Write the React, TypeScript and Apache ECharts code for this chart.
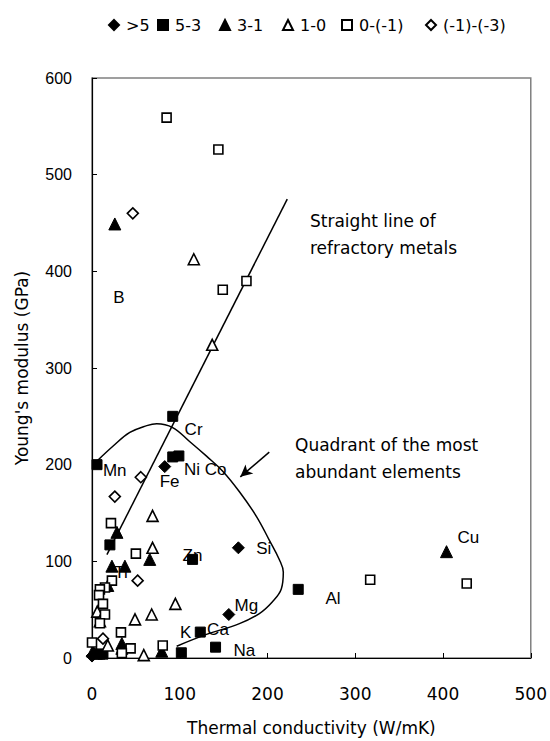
import React, { useEffect, useRef } from "react";
import * as echarts from "echarts";

const legendNames = [">5", "5-3", "3-1", "1-0", "0-(-1)", "(-1)-(-3)"];
const legendLefts = [103, 152, 214, 277, 336, 420];

const seriesGt5 = [[82.9, 198], [166.8, 114], [155.9, 45], [0, 2]];
const series5to3 = [[92, 250], [5.7, 200], [92, 208], [99, 209], [20.4, 117], [114.6, 102], [235, 71], [123.4, 26.8], [101.8, 5.4], [140.8, 11.2], [9, 4], [12.5, 4]];
const series3to1 = [[26, 449], [28.4, 130], [22.7, 95], [37.5, 95], [65.8, 102], [404, 110], [34, 15], [34, 10], [79.5, 7], [1, 7], [5, 5], [18, 75]];
const series1to0 = [[137, 324], [116, 412.5], [69, 114], [69, 147], [95, 56], [49, 40], [68, 45], [6, 48], [9, 38], [18, 13], [59, 3]];
const series0toM1 = [[85, 559], [144, 526], [149, 381], [176, 390], [317, 81], [427, 77], [21.6, 139.5], [50, 108], [22.7, 80], [14.8, 73], [9, 71], [8, 65], [12.5, 56], [14.8, 45], [9, 36], [33, 26.5], [44, 10], [34, 5], [80.6, 13], [0, 16]];
const seriesM1toM3 = [[46.5, 460], [55.6, 187], [26, 167], [52, 80], [12.5, 20]];

const refractoryLine = [[17, 107], [222.5, 474.7]];
const quadrantCurve = [[5.7, 203.7], [23.8, 219], [43.1, 233.3], [62.4, 240.4], [73.8, 242.4], [91.9, 238.4], [111.2, 224], [130.5, 208.8], [148.7, 193.5], [168, 172], [187.3, 146.6], [202, 122], [213.4, 101.9], [218, 88.6], [215.7, 71.3], [205.4, 58], [190.7, 46], [168, 35.6], [130.5, 24.4], [96.5, 12.2]];
const arrowFrom = [202, 213];
const arrowTo = [169, 187.4];

const elementLabels: [number, number, string][] = [
  [30.6, 372.8, "B"], [115.8, 236, "Cr"], [26, 193.5, "Mn"], [129, 194.5, "Ni Co"], [88.5, 183, "Fe"],
  [114.6, 106, "Zn"], [33, 88.6, "Ti"], [195.8, 113, "Si"], [176, 54, "Mg"], [106.7, 26.5, "K"],
  [143.6, 29.5, "Ca"], [173.7, 8, "Na"], [274.7, 61, "Al"], [429, 125, "Cu"],
];

const xTicks = { min: 0, max: 500, interval: 100 };
const yTicks = { min: 0, max: 600, interval: 100 };

const gothic = "'DejaVu Sans', 'Noto Sans', sans-serif";
const arial = "'Liberation Sans', Arial, sans-serif";

export default function App() {
  const ref = useRef<HTMLDivElement>(null);
  useEffect(() => {
    if (!ref.current) return;
    const chart = echarts.init(ref.current, null, { renderer: "svg" });
    const filled = { color: "#000", borderColor: "#000", borderWidth: 1, opacity: 1 };
    const open = { color: "#fff", borderColor: "#000", borderWidth: 1.6, opacity: 1 };
    const sc = (name: string, data: number[][], symbol: string, size: number, style: any) => ({
      type: "scatter", name, data, symbol, symbolSize: size, itemStyle: style, z: 5, clip: false,
    });
    chart.setOption({
      animation: false,
      backgroundColor: "#fff",
      grid: { left: 92, right: 17, top: 78, bottom: 74, show: true, borderColor: "#808080", borderWidth: 1.5, backgroundColor: "transparent" },
      legend: legendNames.map((n, i) => ({
        data: [n], left: legendLefts[i], top: 12, itemWidth: 10, itemHeight: 10, itemGap: 0,
        textStyle: { fontFamily: gothic, fontSize: 16, color: "#000", padding: [0, 0, 0, 2] },
      })),
      xAxis: {
        type: "value", ...xTicks, name: "Thermal conductivity (W/mK)", nameLocation: "middle", nameGap: 61,
        nameTextStyle: { fontFamily: gothic, fontSize: 17, color: "#000" },
        axisLine: { lineStyle: { color: "#000", width: 1.2 } },
        axisTick: { inside: true, length: 5, lineStyle: { color: "#000" } },
        axisLabel: { fontFamily: gothic, fontSize: 17, color: "#000", margin: 27 },
        splitLine: { show: false },
      },
      yAxis: {
        type: "value", ...yTicks, name: "Young's modulus (GPa)", nameLocation: "middle", nameGap: 62,
        nameTextStyle: { fontFamily: gothic, fontSize: 17, color: "#000" },
        axisLine: { lineStyle: { color: "#000", width: 1.2 } },
        axisTick: { inside: true, length: 5, lineStyle: { color: "#000" } },
        axisLabel: { fontFamily: arial, fontSize: 16, color: "#000", margin: 20 },
        splitLine: { show: false },
      },
      graphic: [
        { type: "text", left: 310, top: 207, style: { text: "Straight line of\nrefractory metals", font: `17px ${gothic}`, fill: "#000", lineHeight: 27 } },
        { type: "text", left: 295, top: 431, style: { text: "Quadrant of the most\nabundant elements", font: `17px ${gothic}`, fill: "#000", lineHeight: 27 } },
      ],
      series: [
        { type: "line", data: refractoryLine, symbol: "none", lineStyle: { color: "#000", width: 1.5 }, z: 3, silent: true },
        { type: "line", data: quadrantCurve, symbol: "none", smooth: 0.4, lineStyle: { color: "#000", width: 1.5 }, z: 3, silent: true,
          markLine: { silent: true, symbol: ["none", "arrow"], symbolSize: [9, 12], label: { show: false },
            lineStyle: { color: "#000", width: 1.5, type: "solid" },
            data: [[{ coord: arrowFrom }, { coord: arrowTo }]] } },
        sc(legendNames[0], seriesGt5, "diamond", 12, filled),
        sc(legendNames[1], series5to3, "rect", 10, filled),
        sc(legendNames[2], series3to1, "triangle", 12, filled),
        sc(legendNames[3], series1to0, "triangle", 11, open),
        sc(legendNames[4], series0toM1, "rect", 9, open),
        sc(legendNames[5], seriesM1toM3, "diamond", 11, open),
        {
          type: "scatter", data: elementLabels.map((d) => [d[0], d[1], d[2]]), symbol: "circle", symbolSize: 0.1, z: 6, silent: true,
          itemStyle: { color: "#000", opacity: 1 },
          label: { show: true, position: [0, 0], align: "center", verticalAlign: "middle", formatter: (p: any) => p.value[2],
            fontFamily: arial, fontSize: 17, color: "#000", textBorderWidth: 0 },
        },
      ],
    });
    return () => chart.dispose();
  }, []);
  return <div ref={ref} style={{ position: "fixed", left: 0, top: 0, width: 550, height: 741 }} />;
}
